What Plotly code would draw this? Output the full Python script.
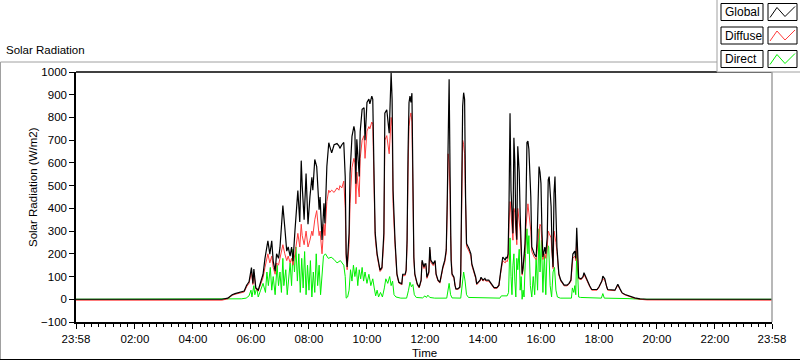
import plotly.graph_objects as go

DAY = "2024-01-02 "
X_START = "2024-01-01 23:58"
X_END = "2024-01-02 23:58"

# Global and Diffuse share time stamps
t_gd = ["2024-01-01 23:58", "05:00", "05:12", "05:21", "05:27", "05:37", "05:46", "05:51", "05:56", "06:01",
        "06:04", "06:06", "06:10", "06:15", "06:21", "06:25", "06:29", "06:33", "06:35", "06:39",
        "06:43", "06:46", "06:50", "06:53", "06:57", "07:00", "07:04", "07:06", "07:10", "07:14",
        "07:17", "07:21", "07:24", "07:27", "07:31", "07:35", "07:37", "07:41", "07:44", "07:46",
        "07:50", "07:54", "07:56", "07:58", "08:02", "08:06", "08:08", "08:12", "08:16", "08:21",
        "08:23", "08:27", "08:31", "08:33", "08:37", "08:41", "08:43", "08:47", "08:52", "08:58",
        "09:02", "09:04", "09:08", "09:12", "09:15", "09:17", "09:19", "09:23", "09:25", "09:29",
        "09:33", "09:35", "09:37", "09:39", "09:44", "09:46", "09:50", "09:54", "09:56", "10:00",
        "10:04", "10:06", "10:10", "10:12", "10:15", "10:17", "10:21", "10:25", "10:27", "10:31",
        "10:35", "10:37", "10:41", "10:46", "10:48", "10:50", "10:52", "10:54", "10:58", "11:02",
        "11:06", "11:12", "11:14", "11:19", "11:21", "11:23", "11:25", "11:27", "11:29", "11:31",
        "11:33", "11:35", "11:37", "11:39", "11:44", "11:48", "11:52", "11:54", "11:58", "12:00",
        "12:02", "12:04", "12:08", "12:10", "12:12", "12:17", "12:21", "12:23", "12:27", "12:31",
        "12:33", "12:37", "12:41", "12:44", "12:46", "12:48", "12:50", "12:52", "12:53", "12:54",
        "12:56", "13:00", "13:02", "13:04", "13:08", "13:12", "13:14", "13:16", "13:18", "13:20",
        "13:22", "13:24", "13:26", "13:31", "13:35", "13:37", "13:41", "13:45", "13:47", "13:54",
        "13:56", "14:00", "14:04", "14:06", "14:12", "14:17", "14:19", "14:23", "14:29", "14:33",
        "14:37", "14:39", "14:41", "14:46", "14:48", "14:50", "14:52", "14:54", "14:56", "14:58",
        "15:00", "15:02", "15:04", "15:06", "15:08", "15:10", "15:12", "15:15", "15:17", "15:19",
        "15:21", "15:23", "15:25", "15:27", "15:29", "15:31", "15:33", "15:35", "15:39", "15:41",
        "15:46", "15:50", "15:52", "15:54", "15:56", "15:58", "16:00", "16:02", "16:04", "16:08",
        "16:10", "16:13", "16:15", "16:17", "16:21", "16:23", "16:25", "16:27", "16:29", "16:31",
        "16:33", "16:37", "16:41", "16:48", "16:54", "16:58", "17:02", "17:04", "17:06", "17:10",
        "17:12", "17:14", "17:16", "17:18", "17:23", "17:27", "17:29", "17:33", "17:35", "17:37",
        "17:41", "17:45", "17:56", "18:00", "18:06", "18:08", "18:12", "18:16", "18:18", "18:33",
        "18:37", "18:39", "18:43", "18:48", "18:54", "19:00", "19:08", "19:14", "19:25", "19:39",
        "23:58"]

global_vals = [0, 0, 5, 20, 25, 32, 36, 62, 77, 139,
               70, 133, 50, 40, 80, 110, 180, 249, 257, 199,
               257, 168, 124, 200, 180, 227, 332, 412, 316, 212,
               230, 190, 230, 168, 301, 404, 478, 340, 610, 500,
               350, 553, 450, 330, 450, 537, 480, 615, 584, 394,
               450, 261, 422, 333, 584, 689, 673, 644, 680, 685,
               675, 664, 680, 690, 540, 200, 142, 292, 553, 717,
               761, 738, 508, 704, 540, 738, 836, 843, 700, 866,
               881, 860, 894, 880, 508, 292, 200, 156, 128, 140,
               292, 819, 834, 731, 909, 997, 880, 480, 261, 112,
               75, 68, 110, 110, 128, 261, 650, 866, 894, 866,
               907, 466, 186, 112, 68, 53, 84, 172, 142, 156,
               156, 97, 120, 230, 172, 156, 170, 112, 84, 75,
               100, 142, 172, 217, 420, 820, 968, 540, 300, 172,
               112, 97, 62, 46, 46, 53, 112, 438, 850, 909,
               880, 450, 245, 223, 200, 156, 128, 97, 68, 84,
               97, 84, 92, 84, 84, 70, 62, 51, 51, 62,
               128, 172, 186, 172, 186, 180, 200, 437, 819, 480,
               350, 290, 711, 600, 330, 262, 673, 560, 370, 230,
               112, 140, 200, 245, 407, 690, 696, 660, 450, 230,
               200, 186, 261, 380, 584, 560, 510, 304, 186, 230,
               200, 274, 525, 540, 407, 215, 142, 466, 540, 380,
               230, 112, 84, 62, 62, 70, 84, 150, 199, 212,
               180, 315, 150, 94, 90, 100, 117, 95, 87, 75,
               58, 43, 43, 55, 80, 102, 90, 55, 43, 40,
               58, 66, 48, 28, 21, 16, 9, 6, 2, 0,
               0]

diffuse_vals = [-4, -4, 2, 17, 22, 29, 32, 55, 70, 120,
                65, 115, 46, 36, 72, 95, 140, 190, 200, 160,
                190, 140, 110, 160, 150, 180, 220, 240, 200, 170,
                190, 160, 180, 150, 200, 260, 290, 230, 330, 280,
                240, 300, 260, 230, 260, 300, 280, 350, 390, 280,
                300, 200, 330, 280, 430, 480, 470, 480, 470, 490,
                480, 500, 490, 520, 400, 180, 130, 240, 420, 580,
                620, 600, 420, 560, 450, 620, 700, 720, 620, 740,
                760, 750, 780, 770, 460, 270, 190, 150, 122, 133,
                260, 700, 720, 640, 760, 800, 760, 420, 240, 105,
                71, 64, 104, 104, 122, 240, 560, 760, 800, 820,
                780, 420, 176, 106, 64, 50, 80, 163, 135, 148,
                148, 92, 114, 218, 163, 148, 161, 106, 80, 71,
                95, 135, 163, 205, 380, 640, 600, 460, 280, 163,
                106, 92, 59, 44, 44, 50, 106, 400, 700, 680,
                640, 420, 233, 212, 190, 148, 122, 92, 64, 80,
                92, 80, 87, 80, 80, 66, 59, 48, 48, 59,
                120, 160, 170, 160, 170, 165, 180, 330, 430, 380,
                300, 260, 400, 380, 300, 240, 400, 350, 300, 210,
                106, 130, 180, 220, 320, 400, 420, 380, 300, 210,
                185, 175, 230, 280, 300, 330, 320, 250, 175, 200,
                180, 230, 300, 290, 270, 200, 135, 300, 280, 250,
                210, 106, 80, 59, 59, 66, 80, 140, 180, 190,
                170, 250, 140, 90, 86, 95, 110, 90, 83, 71,
                55, 40, 40, 52, 76, 90, 85, 52, 40, 38,
                55, 62, 45, 26, 19, 14, 7, 4, 0, -3,
                -4]

t_direct = ["2024-01-01 23:58", "05:00", "05:40", "05:50", "05:56", "06:00", "06:02", "06:06", "06:08", "06:12",
            "06:15", "06:20", "06:25", "06:30", "06:33", "06:36", "06:40", "06:43", "06:46", "06:50",
            "06:54", "06:57", "07:00", "07:03", "07:06", "07:08", "07:12", "07:15", "07:18", "07:21",
            "07:24", "07:27", "07:30", "07:33", "07:36", "07:39", "07:42", "07:45", "07:48", "07:51",
            "07:54", "07:57", "08:00", "08:03", "08:06", "08:09", "08:12", "08:15", "08:18", "08:21",
            "08:24", "08:27", "08:30", "08:34", "08:40", "08:46", "08:52", "08:58", "09:05", "09:12",
            "09:15", "09:17", "09:20", "09:23", "09:26", "09:29", "09:32", "09:35", "09:38", "09:41",
            "09:44", "09:47", "09:50", "09:53", "09:56", "10:00", "10:04", "10:08", "10:12", "10:15",
            "10:18", "10:21", "10:24", "10:28", "10:32", "10:36", "10:39", "10:43", "10:47", "10:50",
            "10:53", "10:56", "11:00", "11:10", "11:22", "11:26", "11:29", "11:32", "11:35", "11:38",
            "11:42", "11:55", "12:00", "12:03", "12:06", "12:10", "12:20", "12:45", "12:48", "12:50",
            "12:53", "12:56", "13:14", "13:17", "13:20", "13:23", "13:26", "13:30", "14:35", "14:38",
            "14:50", "14:53", "14:56", "14:58", "15:00", "15:02", "15:04", "15:06", "15:08", "15:10",
            "15:12", "15:15", "15:17", "15:19", "15:21", "15:23", "15:25", "15:28", "15:31", "15:33",
            "15:35", "15:38", "15:41", "15:44", "15:47", "15:50", "15:53", "15:56", "15:58", "16:01",
            "16:04", "16:07", "16:10", "16:13", "16:16", "16:19", "16:22", "16:25", "16:28", "16:31",
            "16:34", "16:40", "17:03", "17:05", "17:08", "17:10", "17:12", "17:14", "17:16", "17:18",
            "17:22", "18:05", "18:08", "18:11", "19:00", "19:30", "23:58"]

direct_vals = [0, 0, 2, 5, 15, 40, 10, 60, 20, 50,
               10, 40, 70, 30, 120, 60, 140, 40, 100, 20,
               150, 60, 120, 30, 180, 60, 130, 20, 90, 160,
               60, 220, 120, 230, 80, 200, 30, 180, 50, 210,
               20, 150, 40, 170, 10, 120, 30, 200, 60, 150,
               20, 120, 190, 200, 180, 185, 175, 160, 170, 150,
               100, 5, 10, 40, 130, 80, 150, 100, 140, 60,
               130, 90, 140, 80, 120, 70, 110, 60, 90, 50,
               15, 40, 10, 30, 10, 50, 90, 70, 100, 60,
               80, 20, 10, 5, 5, 40, 75, 55, 65, 20,
               8, 6, 15, 8, 18, 8, 5, 5, 60, 70,
               20, 6, 5, 60, 120, 80, 20, 8, 5, 15,
               15, 30, 270, 100, 20, 150, 200, 80, 10, 180,
               130, 220, 40, 100, 0, 40, 10, 200, 310, 200,
               280, 60, 10, 100, 20, 180, 40, 310, 120, 260,
               30, 200, 20, 240, 230, 60, 10, 120, 140, 40,
               10, 5, 5, 50, 30, 60, 20, 210, 60, 10,
               8, 5, 25, 5, 3, 0, 0]

x_tick_times = ["2024-01-01 23:58", "02:00", "04:00", "06:00", "08:00", "10:00", "12:00",
                "14:00", "16:00", "18:00", "20:00", "22:00", "2024-01-02 23:58"]
x_tick_labels = ["23:58", "02:00", "04:00", "06:00", "08:00", "10:00", "12:00",
                 "14:00", "16:00", "18:00", "20:00", "22:00", "23:58"]
series_names = ["Global", "Diffuse", "Direct"]
series_colors = ["#000000", "#ff3c3c", "#00f000"]


def to_dt(ts):
    return [t if len(t) > 5 else DAY + t for t in ts]


FONT = "Liberation Sans"
fig = go.Figure()
fig.add_trace(go.Scatter(x=to_dt(t_direct), y=direct_vals, mode="lines", name=series_names[2],
                         line=dict(color=series_colors[2], width=1)))
fig.add_trace(go.Scatter(x=to_dt(t_gd), y=diffuse_vals, mode="lines", name=series_names[1],
                         line=dict(color=series_colors[1], width=1)))
fig.add_trace(go.Scatter(x=to_dt(t_gd), y=global_vals, mode="lines", name=series_names[0],
                         line=dict(color=series_colors[0], width=1.2)))

L, R, T, B = 76, 28, 72, 39
W, H = 800, 361
PW, PH = W - L - R, H - T - B


def px(x):
    return (x - L) / PW


def py(y):
    return (H - B - y) / PH


shapes = []
# outer frame
shapes.append(dict(type="line", xref="paper", yref="paper", x0=px(0.5), x1=px(717), y0=py(62), y1=py(62),
                   line=dict(color="#a0a0a0", width=1)))
shapes.append(dict(type="line", xref="paper", yref="paper", x0=px(0.5), x1=px(0.5), y0=py(62), y1=py(359),
                   line=dict(color="#a0a0a0", width=1)))
shapes.append(dict(type="line", xref="paper", yref="paper", x0=px(0), x1=px(800), y0=py(359.5), y1=py(359.5),
                   line=dict(color="#000000", width=1)))
# plot frame
shapes.append(dict(type="line", xref="paper", yref="paper", x0=0, x1=1, y0=1, y1=1,
                   line=dict(color="#000000", width=1.5)))
shapes.append(dict(type="line", xref="paper", yref="paper", x0=1, x1=1, y0=0, y1=1,
                   line=dict(color="#a0a0a0", width=1.5)))
# legend panel
shapes.append(dict(type="rect", xref="paper", yref="paper", x0=px(717), x1=px(801), y0=py(72), y1=py(-1),
                   line=dict(width=0), fillcolor="white", layer="above"))
shapes.append(dict(type="line", xref="paper", yref="paper", x0=px(717), x1=px(717), y0=py(72), y1=py(0),
                   line=dict(color="#a0a0a0", width=1), layer="above"))
shapes.append(dict(type="line", xref="paper", yref="paper", x0=px(717), x1=px(800), y0=py(72), y1=py(72),
                   line=dict(color="#a0a0a0", width=1), layer="above"))

annotations = []
row_tops = [3.5, 27, 50.5]
for i, name in enumerate(series_names):
    y0 = row_tops[i]
    y1 = y0 + 17
    shapes.append(dict(type="rect", xref="paper", yref="paper", x0=px(721), x1=px(763), y0=py(y1), y1=py(y0),
                       line=dict(color="#000000", width=1), fillcolor="white", layer="above"))
    shapes.append(dict(type="rect", xref="paper", yref="paper", x0=px(768), x1=px(797), y0=py(y1), y1=py(y0),
                       line=dict(color="#000000", width=1), fillcolor="white", layer="above"))
    pts = [(770, y0 + 14), (777, y0 + 4), (785, y0 + 13), (795, y0 + 3)]
    path = "M " + " L ".join(f"{px(a):.5f},{py(b):.5f}" for a, b in pts)
    shapes.append(dict(type="path", xref="paper", yref="paper", path=path,
                       line=dict(color=series_colors[i], width=1), layer="above"))
    annotations.append(dict(text=name, xref="paper", yref="paper", x=px(723), y=py(y0 + 8.5),
                            xanchor="left", yanchor="middle", showarrow=False,
                            font=dict(family=FONT, size=12, color="#000000")))

annotations.append(dict(text="Solar Radiation", xref="paper", yref="paper", x=px(4), y=py(50),
                        xanchor="left", yanchor="middle", showarrow=False,
                        font=dict(family=FONT, size=11.5, color="#000000")))
annotations.append(dict(text="Solar Radiation (W/m2)", xref="paper", yref="paper", x=px(33), y=py(187),
                        xanchor="center", yanchor="middle", textangle=-90, showarrow=False,
                        font=dict(family=FONT, size=11.5, color="#000000")))
annotations.append(dict(text="Time", xref="paper", yref="paper", x=px(424), y=py(353),
                        xanchor="center", yanchor="middle", showarrow=False,
                        font=dict(family=FONT, size=11.5, color="#000000")))

fig.update_layout(
    width=W, height=H,
    margin=dict(l=L, r=R, t=T, b=B, pad=0),
    paper_bgcolor="white", plot_bgcolor="white",
    showlegend=False,
    shapes=shapes, annotations=annotations,
    font=dict(family=FONT, size=11.5, color="#000000"),
    xaxis=dict(range=[X_START, X_END], type="date",
               tickmode="array", tickvals=to_dt(x_tick_times), ticktext=x_tick_labels,
               ticks="outside", ticklen=5, tickwidth=1, tickcolor="black",
               showline=True, linecolor="black", linewidth=1.5, showgrid=False, zeroline=False,
               minor=dict(tickmode="linear", tick0=DAY + "00:00", dtick=15 * 60 * 1000,
                          ticks="outside", ticklen=3, tickcolor="black", showgrid=False),
               tickfont=dict(family=FONT, size=11.5)),
    yaxis=dict(range=[-100, 1000], tickmode="linear", tick0=0, dtick=100,
               ticks="outside", ticklen=5, tickcolor="black",
               showline=True, linecolor="black", linewidth=1.5, showgrid=False, zeroline=False,
               tickfont=dict(family=FONT, size=11.5)),
)

fig.write_html("out.html", config={"displayModeBar": False},
               post_script="document.body.style.margin='0px';document.body.style.overflow='hidden';")
